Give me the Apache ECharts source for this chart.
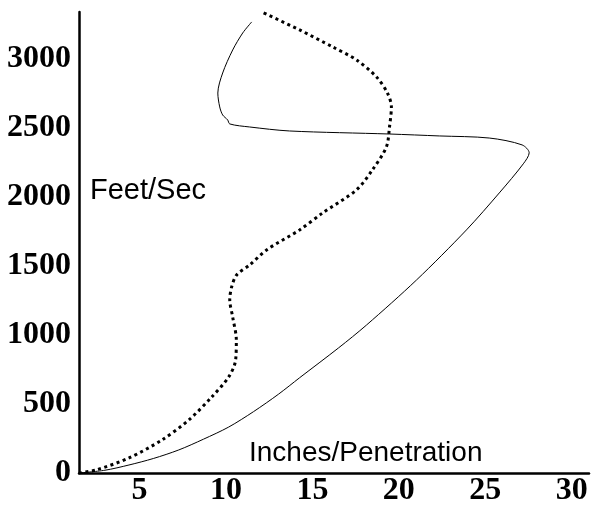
<!DOCTYPE html>
<html>
<head>
<meta charset="utf-8">
<script src="https://cdn.jsdelivr.net/npm/echarts@6/dist/echarts.min.js"></script>
<style>html,body{margin:0;padding:0;background:#fff}#c{width:592px;height:509px}</style>
</head>
<body>
<div id="c"></div>
<script>
// Solid curve: [inches, feet/sec]
var solidCurve = [
  [1.5, 0], [3.0, 20], [4.39, 58], [5.8, 105], [7.27, 167], [8.7, 245], [10.16, 333],
  [11.6, 445], [13.05, 572], [14.26, 690],
  [16.51, 906], [18.13, 1072], [21.02, 1398], [23.91, 1761], [25.81, 2029],
  [27.2, 2240], [27.54, 2320], [27.13, 2377], [25.23, 2427], [22.34, 2442], [19.46, 2456],
  [13.68, 2478], [11.37, 2507], [10.22, 2529], [10.1, 2558], [9.81, 2594],
  [9.64, 2652], [9.53, 2753], [9.81, 2898], [10.39, 3065], [10.97, 3188], [11.49, 3268]
];
// Dotted curve: [inches, feet/sec]
var dottedCurve = [
  [1.5, 0], [2.48, 22], [4.39, 109], [6.29, 239], [7.85, 384], [9.18, 551],
  [10.16, 696], [10.56, 819], [10.6, 964], [10.39, 1130], [10.22, 1254],
  [10.33, 1348], [10.62, 1435], [11.37, 1507], [12.35, 1616], [14.26, 1761],
  [15.59, 1884], [17.55, 2051], [18.47, 2196], [19.28, 2362], [19.46, 2507],
  [19.57, 2652], [19.34, 2753], [18.71, 2869], [17.55, 2993], [16.17, 3087],
  [14.26, 3210], [12.07, 3340]
];
var xTickLabels = [5, 10, 15, 20, 25, 30];
var yTickLabels = [0, 500, 1000, 1500, 2000, 2500, 3000];
var yTitle = 'Feet/Sec';
var xTitle = 'Inches/Penetration';

var chart = echarts.init(document.getElementById('c'));
chart.setOption({
  animation: false,
  grid: { left: 79, right: 2, top: 12, bottom: 36 },
  xAxis: {
    type: 'value', min: 1.5, max: 31, interval: 0.5,
    splitLine: { show: false }, axisTick: { show: false },
    axisLine: { lineStyle: { color: '#000', width: 2.5 } },
    axisLabel: {
      margin: 2, color: '#000', fontFamily: 'Liberation Serif', fontWeight: 'bold', fontSize: 32,
      formatter: function (v) { return xTickLabels.indexOf(v) >= 0 ? String(v) : ''; }
    }
  },
  yAxis: {
    type: 'value', min: 0, max: 3340, interval: 500,
    splitLine: { show: false }, axisTick: { show: false },
    axisLine: { show: true, lineStyle: { color: '#000', width: 2.5 } },
    axisLabel: {
      margin: 8, color: '#000', fontFamily: 'Liberation Serif', fontWeight: 'bold', fontSize: 32,
      formatter: function (v) { return yTickLabels.indexOf(v) >= 0 ? String(v) : ''; }
    }
  },
  graphic: [
    { type: 'text', left: 90, top: 176, style: { text: yTitle, fontFamily: 'Liberation Sans', fontSize: 29, fill: '#000' } },
    { type: 'text', left: 249, top: 439, style: { text: xTitle, fontFamily: 'Liberation Sans', fontSize: 28, fill: '#000' } }
  ],
  series: [
    { type: 'line', data: solidCurve, showSymbol: false, smooth: 0.3,
      lineStyle: { color: '#000', width: 1 } },
    { type: 'line', data: dottedCurve, showSymbol: false, smooth: 0.3,
      lineStyle: { color: '#000', width: 3, type: [3, 3.5], cap: 'butt' } }
  ]
});
</script>
</body>
</html>
